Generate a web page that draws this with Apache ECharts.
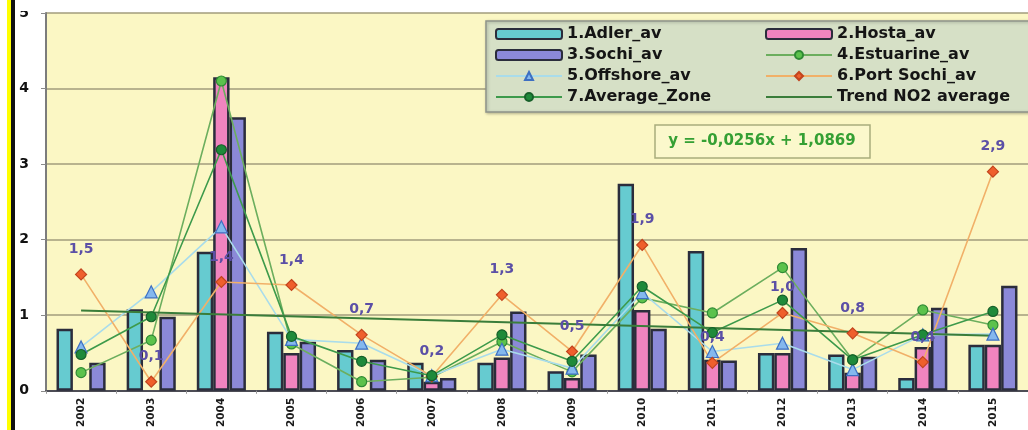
<!DOCTYPE html>
<html>
<head>
<meta charset="utf-8">
<style>
  html, body { margin: 0; padding: 0; background: #ffffff; }
  #chart { width: 1028px; height: 430px; }
</style>
<script src="https://cdn.jsdelivr.net/npm/echarts@6/dist/echarts.min.js"></script>
</head>
<body>
<div id="chart"></div>
<script>
// NO2 averages by station group, 2002-2015
const years = ['2002', '2003', '2004', '2005', '2006', '2007', '2008', '2009', '2010', '2011', '2012', '2013', '2014', '2015'];

const adlerAv     = [0.82, 1.08, 1.84, 0.78, 0.54, 0.37, 0.37, 0.26, 2.74, 1.85, 0.50, 0.48, 0.17, 0.61];
const hostaAv     = [null, null, 4.15, 0.50, null, 0.12, 0.44, 0.17, 1.07, 0.41, 0.50, 0.24, 0.58, 0.61];
const sochiAv     = [0.37, 0.98, 3.62, 0.65, 0.41, 0.17, 1.05, 0.48, 0.82, 0.40, 1.89, 0.45, 1.10, 1.39];
const estuarineAv = [0.24, 0.67, 4.10, 0.62, 0.12, 0.18, 0.65, 0.25, 1.23, 1.03, 1.63, 0.41, 1.07, 0.87];
const offshoreAv  = [0.58, 1.31, 2.17, 0.68, 0.63, 0.20, 0.55, 0.30, 1.30, 0.52, 0.63, 0.28, 0.74, 0.75];
const portSochiAv = [1.54, 0.12, 1.44, 1.40, 0.74, 0.19, 1.27, 0.52, 1.93, 0.37, 1.03, 0.76, 0.38, 2.90];
const averageZone = [0.48, 0.98, 3.19, 0.72, 0.39, 0.20, 0.74, 0.39, 1.38, 0.77, 1.20, 0.41, 0.74, 1.05];
// linear trend of the zone average: end points of y = -0.0256x + 1.0869 (x = 1..14)
const trendNO2    = [1.0613, null, null, null, null, null, null, null, null, null, null, null, null, 0.7285];
const trendEquation = 'y = -0,0256x + 1,0869';

const yMin = 0, yMax = 5, yStep = 1;

const FONT = '"DejaVu Sans", "Liberation Sans", sans-serif';
const BAR_BORDER = '#2b2d3c';

function barSeries(name, data, color) {
  return {
    name, type: 'bar', data,
    barGap: '0%', barCategoryGap: '30%',
    itemStyle: { color, borderColor: BAR_BORDER, borderWidth: 2.5 }
  };
}

function lineSeries(name, data, lineColor, symbol, fill, border, size) {
  return {
    name, type: 'line', data,
    symbol, symbolSize: size,
    lineStyle: { color: lineColor, width: 1.6 },
    itemStyle: { color: fill, borderColor: border, borderWidth: 1.2 }
  };
}

const chart = echarts.init(document.getElementById('chart'), null, { renderer: 'canvas' });

const legendText = { fontFamily: FONT, fontSize: 16, fontWeight: 'bold', color: '#151515', lineHeight: 18 };

chart.setOption({
  animation: false,
  backgroundColor: '#ffffff',
  grid: {
    left: 46, top: 13, width: 988, height: 378,
    show: true, backgroundColor: '#fbf7c4', borderWidth: 0
  },
  legend: [
    {
      orient: 'vertical', left: 495, top: 25, padding: 0, z: 10,
      itemWidth: 66, itemHeight: 10, itemGap: 3,
      textStyle: legendText,
      data: ['1.Adler_av', '3.Sochi_av', '5.Offshore_av', '7.Average_Zone']
    },
    {
      orient: 'vertical', left: 765, top: 25, padding: 0, z: 10,
      itemWidth: 66, itemHeight: 10, itemGap: 3,
      textStyle: legendText,
      data: ['2.Hosta_av', '4.Estuarine_av', '6.Port Sochi_av',
        { name: 'Trend NO2 average', itemStyle: { opacity: 0 } }]
    }
  ],
  xAxis: {
    type: 'category', data: years,
    boundaryGap: true,
    axisLine: { show: true, lineStyle: { color: '#4d4d55', width: 2 } },
    axisTick: { show: true, length: 3, lineStyle: { color: '#999' } },
    axisLabel: {
      rotate: 90, margin: 7, color: '#1a1a1a',
      fontFamily: FONT, fontSize: 10.5, fontWeight: 'bold'
    },
    splitLine: { show: false }
  },
  yAxis: {
    type: 'value', min: yMin, max: yMax, interval: yStep,
    axisLine: { show: true, lineStyle: { color: '#7c7c7c', width: 2 } },
    axisTick: { show: true, length: 5, lineStyle: { color: '#8a8a8a' } },
    axisLabel: { margin: 17, color: '#111', fontFamily: FONT, fontSize: 14, fontWeight: 'bold' },
    splitLine: { show: true, lineStyle: { color: '#a29d7c', width: 1.5 } }
  },
  series: [
    barSeries('1.Adler_av', adlerAv, '#66cbd0'),
    barSeries('2.Hosta_av', hostaAv, '#f084bf'),
    barSeries('3.Sochi_av', sochiAv, '#8b89d8'),
    lineSeries('4.Estuarine_av', estuarineAv, '#6cae5e', 'circle', '#5cc24c', '#2f8a35', 10),
    lineSeries('5.Offshore_av', offshoreAv, '#a9dceb', 'triangle', '#84b8ee', '#3d6fc2', 12),
    Object.assign(
      lineSeries('6.Port Sochi_av', portSochiAv, '#f1b068', 'diamond', '#ef5f2c', '#c2441e', 11),
      {
        label: {
          show: true, position: 'top', distance: 12,
          color: '#5b4fa6', fontFamily: FONT, fontSize: 14, fontWeight: 'bold',
          formatter: p => p.value.toFixed(1).replace('.', ',')
        }
      }
    ),
    lineSeries('7.Average_Zone', averageZone, '#3d9a4b', 'circle', '#1f8a3a', '#17602a', 10),
    {
      name: 'Trend NO2 average', type: 'line', data: trendNO2,
      connectNulls: true, symbol: 'none',
      lineStyle: { color: '#3a7d3a', width: 2 },
      itemStyle: { color: '#3a7d3a' }
    }
  ],
  graphic: [
    // outer frame strip on the left
    { type: 'rect', z: 20, shape: { x: 7, y: 0, width: 4, height: 430 }, style: { fill: '#ffff00' } },
    { type: 'rect', z: 20, shape: { x: 11, y: 0, width: 4, height: 430 }, style: { fill: '#111111' } },
    // white band along the top edge
    { type: 'rect', z: 20, shape: { x: 15, y: 0, width: 1013, height: 11 }, style: { fill: '#ffffff' } },
    // legend panel
    {
      type: 'rect', z: 9,
      shape: { x: 486, y: 21, width: 560, height: 91 },
      style: {
        fill: '#d6e0c6', stroke: '#8e948a', lineWidth: 1.5,
        shadowColor: 'rgba(0,0,0,0.25)', shadowBlur: 3, shadowOffsetX: 1, shadowOffsetY: 1
      }
    },
    // regression equation box
    {
      type: 'rect', z: 9,
      shape: { x: 655, y: 125, width: 215, height: 33 },
      style: { fill: '#fbf8cc', stroke: '#a9ad7c', lineWidth: 1.5 }
    },
    {
      type: 'text', z: 10, x: 762, y: 141,
      style: {
        text: trendEquation, fill: '#35a034',
        font: 'bold 15px ' + FONT, align: 'center', verticalAlign: 'middle'
      }
    }
  ]
});
</script>
</body>
</html>
